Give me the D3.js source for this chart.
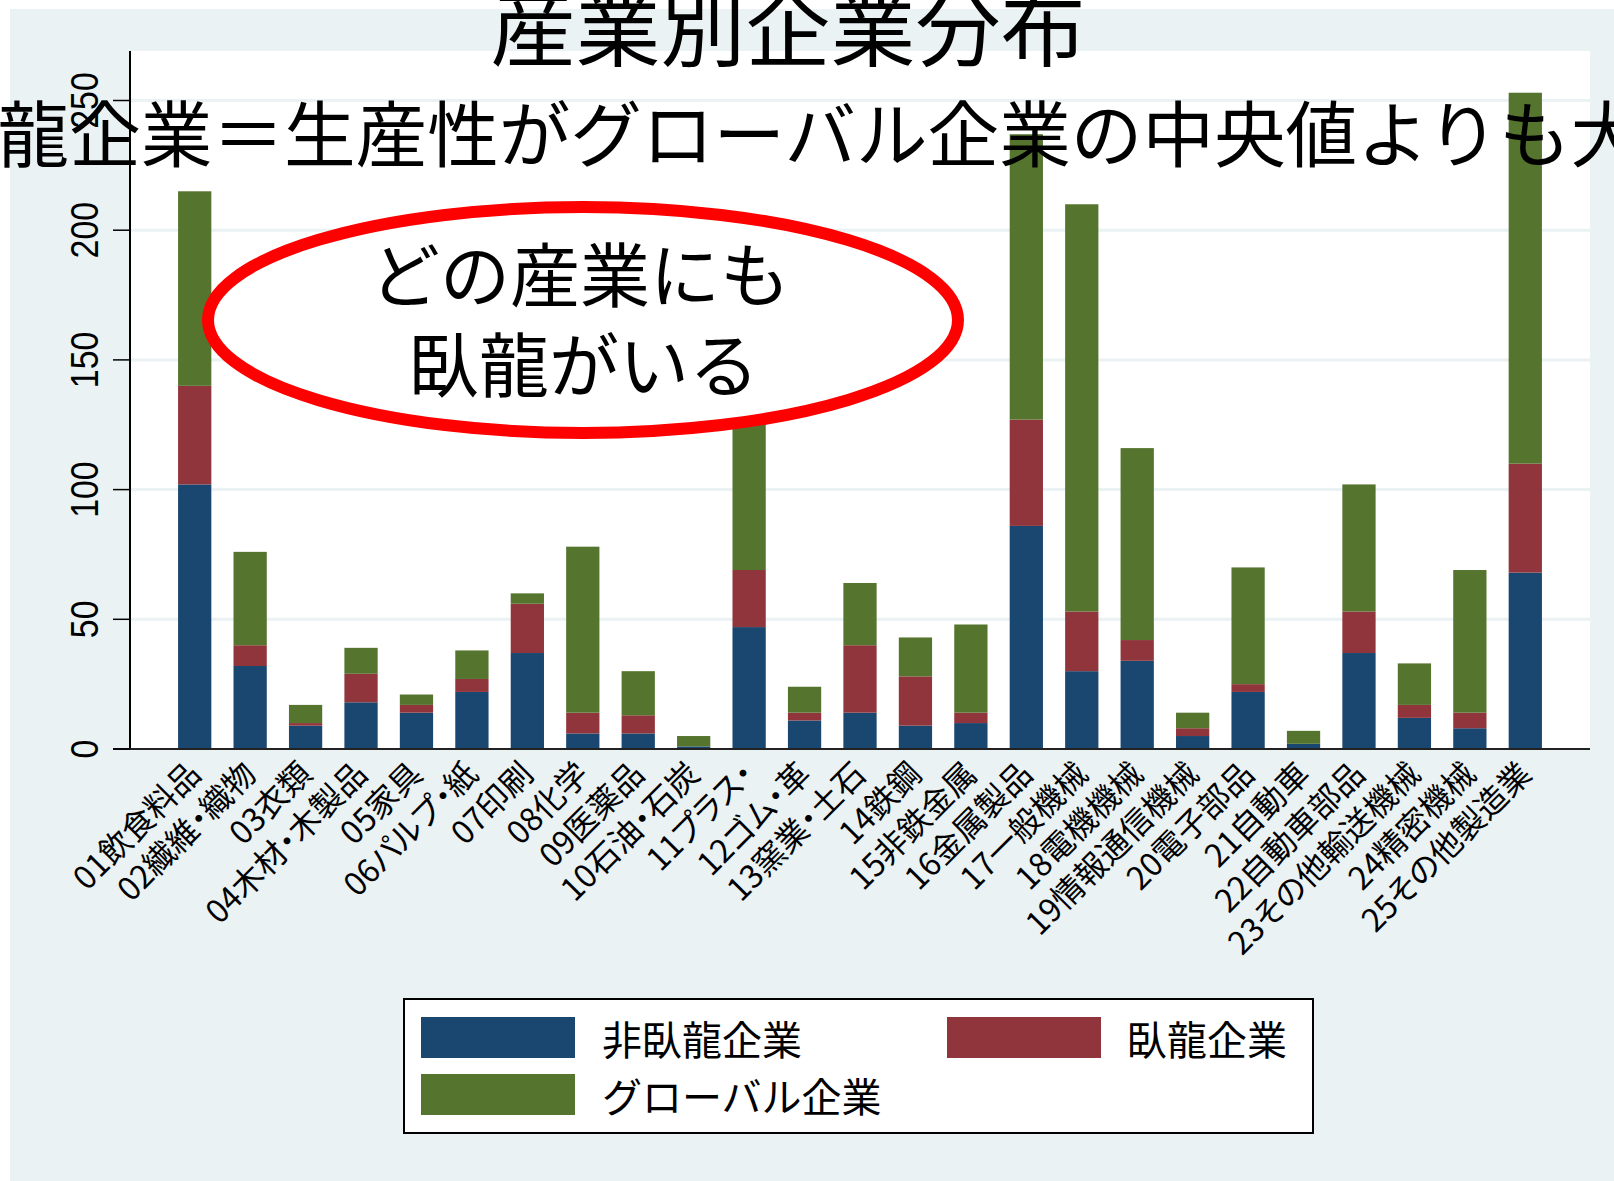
<!DOCTYPE html>
<html>
<head>
<meta charset="utf-8">
<script src="https://cdn.jsdelivr.net/npm/d3@7"></script>
<style>
  html, body { margin: 0; padding: 0; background: #fff; }
  svg { display: block; }
  text { font-family: "Noto Sans CJK JP", "Noto Sans", sans-serif; fill: #000; }
  .num { font-family: "Liberation Sans", Arial, sans-serif; }
  .xlab { font-feature-settings: "palt"; }
</style>
</head>
<body>
<div id="chart"></div>
<script>
// Industries (x axis).
const categories = [
  '01飲食料品', '02繊維・織物', '03衣類', '04木材・木製品', '05家具',
  '06パルプ・紙', '07印刷', '08化学', '09医薬品', '10石油・石炭',
  '11プラス・', '12ゴム・革', '13窯業・土石', '14鉄鋼', '15非鉄金属',
  '16金属製品', '17一般機械', '18電機機械', '19情報通信機械', '20電子部品',
  '21自動車', '22自動車部品', '23その他輸送機械', '24精密機械', '25その他製造業'
];

// Firm counts per industry.
const nonWolong = [102, 32, 9, 18, 14, 22, 37, 6, 6, 1, 47, 11, 14, 9, 10, 86, 30, 34, 5, 22, 2, 37, 12, 8, 68];
const wolong    = [38, 8, 1, 11, 3, 5, 19, 8, 7, 0, 22, 3, 26, 19, 4, 41, 23, 8, 3, 3, 0, 16, 5, 6, 42];
const globalF   = [75, 36, 7, 10, 4, 11, 4, 64, 17, 4, 106, 10, 24, 15, 34, 110, 157, 74, 6, 45, 5, 49, 16, 55, 143];

const seriesNames = ['非臥龍企業', '臥龍企業', 'グローバル企業'];
const yTicks = [0, 50, 100, 150, 200, 250];

const colors = ['#1a476f', '#90353b', '#55752f'];

const W = 1614, H = 1181;
const plot = { left: 130, right: 1590, top: 51, bottom: 749 };

const svg = d3.select('#chart').append('svg')
  .attr('width', W)
  .attr('height', H);

// Backgrounds.
svg.append('rect').attr('x', 10).attr('y', 9).attr('width', W - 10).attr('height', H - 9).attr('fill', '#eaf2f3');
svg.append('rect')
  .attr('x', plot.left).attr('y', plot.top)
  .attr('width', plot.right - plot.left).attr('height', plot.bottom - plot.top)
  .attr('fill', '#fff');

// Scales.
const x = d3.scaleBand()
  .domain(categories)
  .range([plot.left, plot.right])
  .paddingInner(0.4)
  .paddingOuter(0.867);

const y = d3.scaleLinear().domain([0, 250]).range([plot.bottom, 100.5]);

// Gridlines.
svg.append('g')
  .selectAll('line')
  .data(yTicks.filter(d => d > 0))
  .join('line')
  .attr('x1', plot.left).attr('x2', plot.right)
  .attr('y1', d => y(d)).attr('y2', d => y(d))
  .attr('stroke', '#eaf2f3')
  .attr('stroke-width', 3);

// Stacked bars.
const rows = categories.map((c, i) => ({ cat: c, a: nonWolong[i], b: wolong[i], c: globalF[i] }));
const stacked = d3.stack().keys(['a', 'b', 'c'])(rows);

svg.append('g')
  .selectAll('g')
  .data(stacked)
  .join('g')
  .attr('fill', (d, i) => colors[i])
  .selectAll('rect')
  .data(d => d)
  .join('rect')
  .attr('x', d => x(d.data.cat))
  .attr('width', x.bandwidth())
  .attr('y', d => y(d[1]))
  .attr('height', d => y(d[0]) - y(d[1]));

// Axes.
svg.append('line')
  .attr('x1', plot.left).attr('x2', plot.left)
  .attr('y1', plot.top).attr('y2', plot.bottom)
  .attr('stroke', '#000').attr('stroke-width', 2);
svg.append('line')
  .attr('x1', 113).attr('x2', plot.right)
  .attr('y1', plot.bottom).attr('y2', plot.bottom)
  .attr('stroke', '#222').attr('stroke-width', 2);

// Y ticks and labels.
const yt = svg.append('g');
yt.selectAll('line')
  .data(yTicks)
  .join('line')
  .attr('x1', 113).attr('x2', plot.left)
  .attr('y1', d => y(d)).attr('y2', d => y(d))
  .attr('stroke', '#000').attr('stroke-width', 1.5);
yt.selectAll('text')
  .data(yTicks)
  .join('text')
  .attr('class', 'num')
  .attr('text-anchor', 'middle')
  .attr('font-size', 38.5)
  .attr('transform', d => 'translate(98,' + y(d) + ') rotate(-90) scale(0.88,1)')
  .text(d => d);

// X labels, rotated 45 degrees.
svg.append('g')
  .selectAll('text')
  .data(categories)
  .join('text')
  .attr('class', 'xlab')
  .attr('text-anchor', 'end')
  .attr('font-size', 32)
  .attr('transform', d => 'translate(' + (x(d) + x.bandwidth() / 2 + 8) + ',776) rotate(-45)')
  .text(d => d);

// Titles (drawn over the bars).
svg.append('text')
  .attr('x', -74).attr('y', 161)
  .attr('font-size', 71.6)
  .text('臥龍企業＝生産性がグローバル企業の中央値よりも大きい');
svg.append('text')
  .attr('x', 788).attr('y', 60)
  .attr('text-anchor', 'middle')
  .attr('font-size', 85)
  .text('産業別企業分布');

// Annotation ellipse.
svg.append('ellipse')
  .attr('cx', 583).attr('cy', 320)
  .attr('rx', 375).attr('ry', 113)
  .attr('fill', '#fff')
  .attr('stroke', '#ff0000')
  .attr('stroke-width', 12);
svg.append('text')
  .attr('x', 580).attr('y', 302)
  .attr('text-anchor', 'middle')
  .attr('font-size', 70)
  .text('どの産業にも');
svg.append('text')
  .attr('x', 584).attr('y', 392)
  .attr('text-anchor', 'middle')
  .attr('font-size', 70)
  .text('臥龍がいる');

// Legend.
const legend = svg.append('g');
legend.append('rect')
  .attr('x', 404).attr('y', 999).attr('width', 909).attr('height', 134)
  .attr('fill', '#fff').attr('stroke', '#000').attr('stroke-width', 2);

const legendPos = [
  { sx: 421, sy: 1017, tx: 602, ty: 1055 },
  { sx: 947, sy: 1017, tx: 1127, ty: 1055 },
  { sx: 421, sy: 1074, tx: 602, ty: 1112 }
];
legend.selectAll('rect.sw')
  .data(seriesNames)
  .join('rect')
  .attr('class', 'sw')
  .attr('x', (d, i) => legendPos[i].sx)
  .attr('y', (d, i) => legendPos[i].sy)
  .attr('width', 154).attr('height', 41)
  .attr('fill', (d, i) => colors[i]);
legend.selectAll('text')
  .data(seriesNames)
  .join('text')
  .attr('x', (d, i) => legendPos[i].tx)
  .attr('y', (d, i) => legendPos[i].ty)
  .attr('font-size', 40)
  .text(d => d);
</script>
</body>
</html>
